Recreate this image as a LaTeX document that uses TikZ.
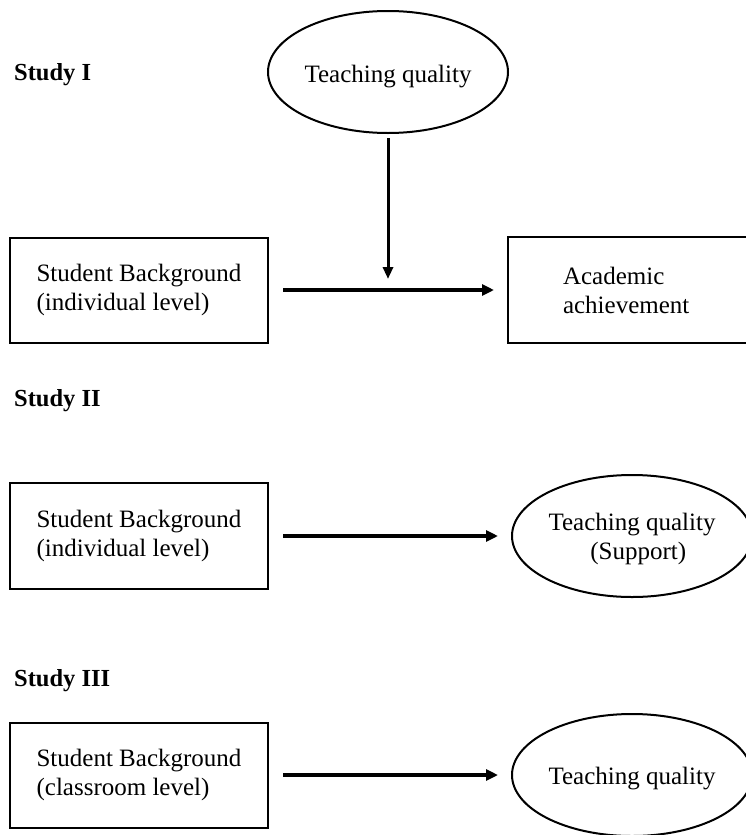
\documentclass[tikz,border=0pt]{standalone}
\usepackage{fontspec}
\setmainfont{Liberation Serif}
\usetikzlibrary{arrows.meta}
\usetikzlibrary{shapes.geometric}
\usetikzlibrary{positioning}

\begin{document}
\begin{tikzpicture}[
    x=1pt, y=-1pt,
    box/.style={rectangle, draw, line width=2pt, minimum width=258pt, minimum height=105pt, align=left, font=\fontsize{25}{29}\selectfont},
    latent/.style={ellipse, draw, line width=2pt, minimum width=240pt, minimum height=122pt, inner sep=0pt, align=center, font=\fontsize{25}{29}\selectfont},
    study/.style={anchor=base west, inner sep=0pt, font=\fontsize{24.5}{28}\selectfont\bfseries},
    effect/.style={line width=4pt, -{Triangle[length=12pt, width=11pt]}, shorten <=14pt, shorten >=13pt},
    >=stealth
]

\clip (0,0) rectangle (746,835);

% --- Study titles ---
\foreach \y/\t in {80/I,406/II,686/III}
    \node[study] (study\t) at (14,\y) {Study \t};

% --- Study I ---
\node[latent, text height=26pt] (tq1) at (388,72) {Teaching quality};
\node[box] (sb1) at (139,290) {Student Background\\(individual level)};
\node[box, minimum width=262pt, minimum height=106pt, text width=152pt, inner xsep=55pt] (aa1) at (639,290) {Academic\\achievement};
\coordinate (mod1) at (388,279);

\draw[effect] (sb1.east) -- (aa1.west);
\draw[line width=3pt, -{Triangle[length=12pt, width=10pt]}, shorten <=4pt] (tq1.south) -- (mod1);

% --- Study II ---
\node[box, minimum height=106pt] (sb2) at (139,536) {Student Background\\(individual level)};
\node[latent, right=242pt of sb2, text depth=0pt] (tq2) {Teaching quality\\\ \ (Support)};

\draw[effect] (sb2.east) -- (tq2.west);

% --- Study III ---
\node[box] (sb3) at (139,775) {Student Background\\(classroom level)};
\node[latent, right=242pt of sb3, text height=24pt] (tq3) {Teaching quality};

\draw[effect] (sb3.east) -- (tq3.west);

\end{tikzpicture}
\end{document}
